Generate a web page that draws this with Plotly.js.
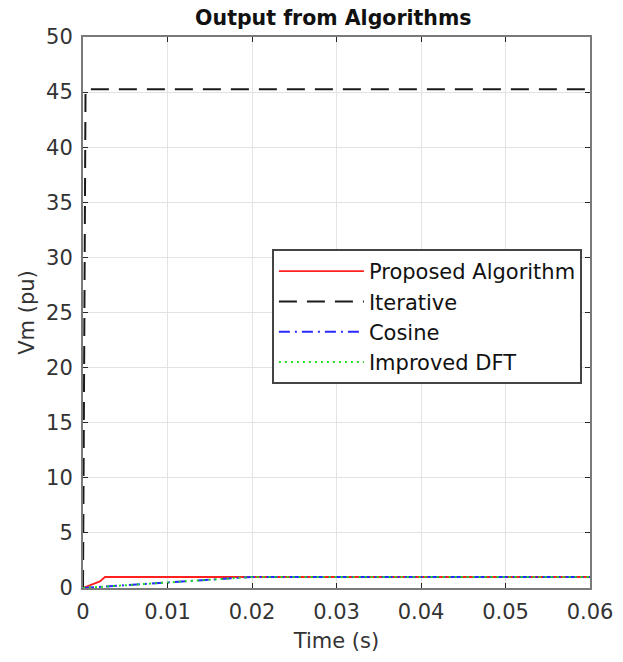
<!DOCTYPE html>
<html>
<head>
<meta charset="utf-8">
<script src="https://cdn.plot.ly/plotly-3.0.1.min.js"></script>
<style>html,body{margin:0;padding:0;background:#fff;}#chart{width:623px;height:662px;}</style>
</head>
<body>
<div id="chart"></div>
<script>
const proposedT = [0, 0.002, 0.0026, 0.06];
const proposedV = [0, 0.6, 1.0, 1.0];
const iterativeT = [0, 0.0003, 0.06];
const iterativeV = [0, 45.25, 45.25];
const cosineT = [0, 0.02, 0.06];
const cosineV = [0, 1.0, 1.0];
const dftT = [0, 0.02, 0.06];
const dftV = [0, 1.0, 1.0];
const xTicks = [0, 0.01, 0.02, 0.03, 0.04, 0.05, 0.06];
const xTickLabels = ['0', '0.01', '0.02', '0.03', '0.04', '0.05', '0.06'];
const yTicks = [0, 5, 10, 15, 20, 25, 30, 35, 40, 45, 50];

const fontFam = 'DejaVu Sans, Liberation Sans, Arial, sans-serif';
const traces = [
  {x: proposedT, y: proposedV, name: 'Proposed Algorithm', mode: 'lines',
   line: {color: '#ff2020', width: 1.8}},
  {x: iterativeT, y: iterativeV, name: 'Iterative', mode: 'lines',
   line: {color: '#1a1a1a', width: 2, dash: '18px,10px'}},
  {x: cosineT, y: cosineV, name: 'Cosine', mode: 'lines',
   line: {color: '#2a2aff', width: 2, dash: '11px,5px,2px,5px'}},
  {x: dftT, y: dftV, name: 'Improved DFT', mode: 'lines',
   line: {color: '#22e022', width: 2, dash: '2px,4px'}}
];
const axisCommon = {
  showline: true, mirror: 'ticks', linecolor: '#7a7a7a', linewidth: 2,
  ticks: 'inside', ticklen: 5, tickcolor: '#262626', tickwidth: 1,
  showgrid: true, gridcolor: '#e3e3e3', gridwidth: 1, zeroline: false,
  ticklabelstandoff: 4,
  tickfont: {family: fontFam, size: 21, color: '#333333'}
};
const layout = {
  width: 623, height: 662,
  margin: {l: 83, r: 33, t: 37, b: 74},
  paper_bgcolor: '#ffffff', plot_bgcolor: '#ffffff',
  title: {text: '<b>Output from Algorithms</b>', x: 0.535, xanchor: 'center', y: 0.973, yanchor: 'middle',
          font: {family: fontFam, size: 20.5, color: '#111'}},
  xaxis: Object.assign({}, axisCommon, {
    range: [0, 0.06], tickvals: xTicks, ticktext: xTickLabels,
    title: {text: 'Time (s)', font: {family: fontFam, size: 21, color: '#333333'}, standoff: 10}
  }),
  yaxis: Object.assign({}, axisCommon, {
    range: [0, 50], tickvals: yTicks,
    title: {text: 'Vm (pu)', font: {family: fontFam, size: 21, color: '#333333'}, standoff: 6}
  }),
  showlegend: true,
  legend: {
    x: 0.373, y: 0.615, xanchor: 'left', yanchor: 'top',
    bgcolor: '#ffffff', bordercolor: '#444444', borderwidth: 1.8,
    font: {family: fontFam, size: 21, color: '#111'},
    itemwidth: 85, tracegroupgap: 0
  }
};
Plotly.newPlot('chart', traces, layout, {displayModeBar: false, staticPlot: true});
</script>
</body>
</html>
